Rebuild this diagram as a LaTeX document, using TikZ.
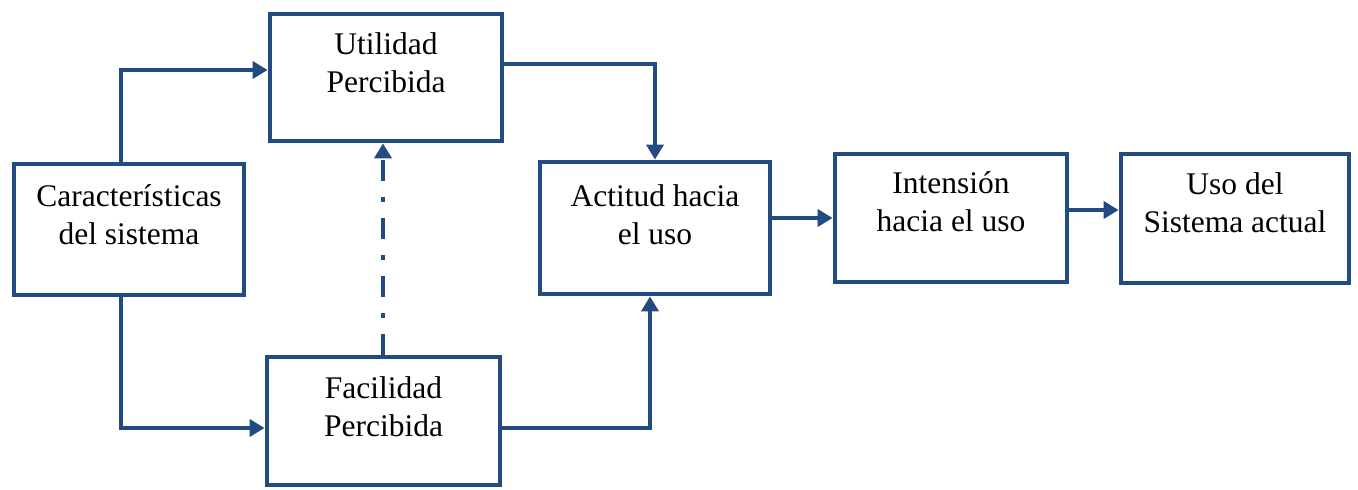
\documentclass[tikz,border=0pt]{standalone}
\usepackage{fontspec}
\setmainfont{Liberation Serif}
\usetikzlibrary{arrows.meta}
\definecolor{navy}{RGB}{33,75,130}
\begin{document}
\begin{tikzpicture}[x=1pt,y=-1pt,
  box/.style={draw=navy,line width=4.8pt,rectangle,inner sep=0pt},
  lbl/.style={align=center,font=\fontsize{31.5}{38}\selectfont,text=black,yshift=14.5pt,inner sep=0pt},
  arr/.style={draw=navy,line width=4.8pt,-{Triangle[length=15pt,width=17pt]}},
  dashdot/.style={dash pattern=on 21pt off 16pt on 5pt off 16pt}]
\useasboundingbox (0,0) rectangle (1358,490);
\node[box,minimum width=230pt,minimum height=131pt,label={[lbl]center:Características\\del sistema}] (car) at (129,229.5) {};
\node[box,minimum width=232pt,minimum height=127pt,label={[lbl]center:Utilidad\\Percibida}] (util) at (386,77.5) {};
\node[box,minimum width=233pt,minimum height=128pt,label={[lbl]center:Facilidad\\Percibida}] (fac) at (383.5,421) {};
\node[box,minimum width=230pt,minimum height=132pt,label={[lbl,yshift=-1pt]center:Actitud hacia\\el uso}] (act) at (655,228) {};
\node[box,minimum width=232pt,minimum height=128pt,label={[lbl,yshift=1.5pt]center:Intensión\\hacia el uso}] (int) at (951,218) {};
\node[box,minimum width=228pt,minimum height=129pt,label={[lbl,yshift=1.5pt]center:Uso del\\Sistema actual}] (uso) at (1235,218.5) {};
\coordinate (j1) at (121,70);
\coordinate (j2) at (121,428);
\coordinate (j3) at (655,64);
\coordinate (j4) at (650,428);
\coordinate (j5) at (383,0);
\coordinate (j6) at (0,218);
\coordinate (j7) at (0,210);
\draw[arr] (j1 |- car.north) |- (util.west |- j1);
\draw[arr] (j2 |- car.south) |- (fac.west |- j2);
\draw[arr] (util.east |- j3) -| (act.north -| j3);
\draw[arr] (fac.east |- j4) -| (act.south -| j4);
\draw[arr,dashdot] (fac.north -| j5) -- (util.south -| j5);
\draw[arr] (act.east |- j6) -- (int.west |- j6);
\draw[arr] (int.east |- j7) -- (uso.west |- j7);
\end{tikzpicture}
\end{document}
